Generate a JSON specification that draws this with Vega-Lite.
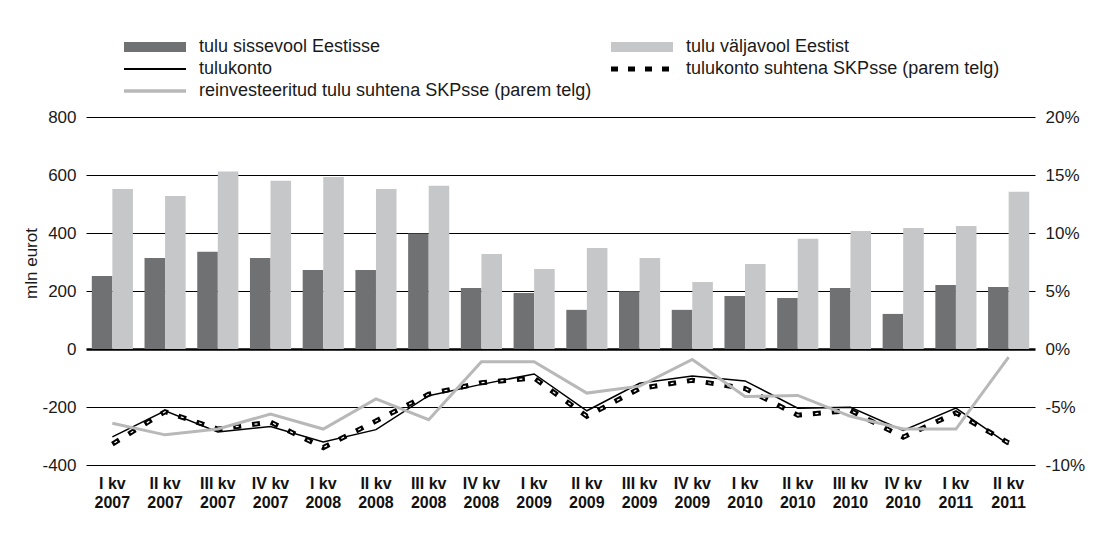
{
  "$schema": "https://vega.github.io/schema/vega-lite/v6.json",
  "width": 949,
  "height": 348,
  "autosize": {"type": "none"},
  "padding": {"left": 86, "top": 117, "right": 61, "bottom": 68},
  "background": "white",
  "config": {
    "view": {"stroke": null},
    "font": "Liberation Sans",
    "axis": {"labelColor": "#1a1a1a", "titleColor": "#1a1a1a", "labelFont": "Liberation Sans", "titleFont": "Liberation Sans"}
  },
  "datasets": {
    "rows": [
      {"quarter": "I kv 2007", "series": "tulu sissevool Eestisse", "value": 252},
      {"quarter": "II kv 2007", "series": "tulu sissevool Eestisse", "value": 314},
      {"quarter": "III kv 2007", "series": "tulu sissevool Eestisse", "value": 335},
      {"quarter": "IV kv 2007", "series": "tulu sissevool Eestisse", "value": 314},
      {"quarter": "I kv 2008", "series": "tulu sissevool Eestisse", "value": 272},
      {"quarter": "II kv 2008", "series": "tulu sissevool Eestisse", "value": 272},
      {"quarter": "III kv 2008", "series": "tulu sissevool Eestisse", "value": 398},
      {"quarter": "IV kv 2008", "series": "tulu sissevool Eestisse", "value": 210},
      {"quarter": "I kv 2009", "series": "tulu sissevool Eestisse", "value": 193},
      {"quarter": "II kv 2009", "series": "tulu sissevool Eestisse", "value": 135},
      {"quarter": "III kv 2009", "series": "tulu sissevool Eestisse", "value": 199},
      {"quarter": "IV kv 2009", "series": "tulu sissevool Eestisse", "value": 135},
      {"quarter": "I kv 2010", "series": "tulu sissevool Eestisse", "value": 183},
      {"quarter": "II kv 2010", "series": "tulu sissevool Eestisse", "value": 176},
      {"quarter": "III kv 2010", "series": "tulu sissevool Eestisse", "value": 210},
      {"quarter": "IV kv 2010", "series": "tulu sissevool Eestisse", "value": 121},
      {"quarter": "I kv 2011", "series": "tulu sissevool Eestisse", "value": 221},
      {"quarter": "II kv 2011", "series": "tulu sissevool Eestisse", "value": 214},
      {"quarter": "I kv 2007", "series": "tulu väljavool Eestist", "value": 552},
      {"quarter": "II kv 2007", "series": "tulu väljavool Eestist", "value": 528},
      {"quarter": "III kv 2007", "series": "tulu väljavool Eestist", "value": 612},
      {"quarter": "IV kv 2007", "series": "tulu väljavool Eestist", "value": 580},
      {"quarter": "I kv 2008", "series": "tulu väljavool Eestist", "value": 593},
      {"quarter": "II kv 2008", "series": "tulu väljavool Eestist", "value": 552},
      {"quarter": "III kv 2008", "series": "tulu väljavool Eestist", "value": 563},
      {"quarter": "IV kv 2008", "series": "tulu väljavool Eestist", "value": 328},
      {"quarter": "I kv 2009", "series": "tulu väljavool Eestist", "value": 276},
      {"quarter": "II kv 2009", "series": "tulu väljavool Eestist", "value": 348},
      {"quarter": "III kv 2009", "series": "tulu väljavool Eestist", "value": 314},
      {"quarter": "IV kv 2009", "series": "tulu väljavool Eestist", "value": 231},
      {"quarter": "I kv 2010", "series": "tulu väljavool Eestist", "value": 293},
      {"quarter": "II kv 2010", "series": "tulu väljavool Eestist", "value": 380},
      {"quarter": "III kv 2010", "series": "tulu väljavool Eestist", "value": 407},
      {"quarter": "IV kv 2010", "series": "tulu väljavool Eestist", "value": 417},
      {"quarter": "I kv 2011", "series": "tulu väljavool Eestist", "value": 424},
      {"quarter": "II kv 2011", "series": "tulu väljavool Eestist", "value": 542},
      {"quarter": "I kv 2007", "series": "tulukonto", "value": -303},
      {"quarter": "II kv 2007", "series": "tulukonto", "value": -213},
      {"quarter": "III kv 2007", "series": "tulukonto", "value": -286},
      {"quarter": "IV kv 2007", "series": "tulukonto", "value": -267},
      {"quarter": "I kv 2008", "series": "tulukonto", "value": -321},
      {"quarter": "II kv 2008", "series": "tulukonto", "value": -278},
      {"quarter": "III kv 2008", "series": "tulukonto", "value": -161},
      {"quarter": "IV kv 2008", "series": "tulukonto", "value": -122},
      {"quarter": "I kv 2009", "series": "tulukonto", "value": -86},
      {"quarter": "II kv 2009", "series": "tulukonto", "value": -213},
      {"quarter": "III kv 2009", "series": "tulukonto", "value": -118},
      {"quarter": "IV kv 2009", "series": "tulukonto", "value": -93},
      {"quarter": "I kv 2010", "series": "tulukonto", "value": -110},
      {"quarter": "II kv 2010", "series": "tulukonto", "value": -204},
      {"quarter": "III kv 2010", "series": "tulukonto", "value": -201},
      {"quarter": "IV kv 2010", "series": "tulukonto", "value": -281},
      {"quarter": "I kv 2011", "series": "tulukonto", "value": -204},
      {"quarter": "II kv 2011", "series": "tulukonto", "value": -329},
      {"quarter": "I kv 2007", "series": "tulukonto suhtena SKPsse (parem telg)", "value": -8.2},
      {"quarter": "II kv 2007", "series": "tulukonto suhtena SKPsse (parem telg)", "value": -5.4},
      {"quarter": "III kv 2007", "series": "tulukonto suhtena SKPsse (parem telg)", "value": -6.9},
      {"quarter": "IV kv 2007", "series": "tulukonto suhtena SKPsse (parem telg)", "value": -6.3},
      {"quarter": "I kv 2008", "series": "tulukonto suhtena SKPsse (parem telg)", "value": -8.5},
      {"quarter": "II kv 2008", "series": "tulukonto suhtena SKPsse (parem telg)", "value": -6.2},
      {"quarter": "III kv 2008", "series": "tulukonto suhtena SKPsse (parem telg)", "value": -3.9},
      {"quarter": "IV kv 2008", "series": "tulukonto suhtena SKPsse (parem telg)", "value": -2.9},
      {"quarter": "I kv 2009", "series": "tulukonto suhtena SKPsse (parem telg)", "value": -2.5},
      {"quarter": "II kv 2009", "series": "tulukonto suhtena SKPsse (parem telg)", "value": -5.8},
      {"quarter": "III kv 2009", "series": "tulukonto suhtena SKPsse (parem telg)", "value": -3.4},
      {"quarter": "IV kv 2009", "series": "tulukonto suhtena SKPsse (parem telg)", "value": -2.7},
      {"quarter": "I kv 2010", "series": "tulukonto suhtena SKPsse (parem telg)", "value": -3.4},
      {"quarter": "II kv 2010", "series": "tulukonto suhtena SKPsse (parem telg)", "value": -5.7},
      {"quarter": "III kv 2010", "series": "tulukonto suhtena SKPsse (parem telg)", "value": -5.3},
      {"quarter": "IV kv 2010", "series": "tulukonto suhtena SKPsse (parem telg)", "value": -7.6},
      {"quarter": "I kv 2011", "series": "tulukonto suhtena SKPsse (parem telg)", "value": -5.5},
      {"quarter": "II kv 2011", "series": "tulukonto suhtena SKPsse (parem telg)", "value": -8.1},
      {"quarter": "I kv 2007", "series": "reinvesteeritud tulu suhtena SKPsse (parem telg)", "value": -6.4},
      {"quarter": "II kv 2007", "series": "reinvesteeritud tulu suhtena SKPsse (parem telg)", "value": -7.4},
      {"quarter": "III kv 2007", "series": "reinvesteeritud tulu suhtena SKPsse (parem telg)", "value": -6.9},
      {"quarter": "IV kv 2007", "series": "reinvesteeritud tulu suhtena SKPsse (parem telg)", "value": -5.6},
      {"quarter": "I kv 2008", "series": "reinvesteeritud tulu suhtena SKPsse (parem telg)", "value": -6.9},
      {"quarter": "II kv 2008", "series": "reinvesteeritud tulu suhtena SKPsse (parem telg)", "value": -4.3},
      {"quarter": "III kv 2008", "series": "reinvesteeritud tulu suhtena SKPsse (parem telg)", "value": -6.1},
      {"quarter": "IV kv 2008", "series": "reinvesteeritud tulu suhtena SKPsse (parem telg)", "value": -1.1},
      {"quarter": "I kv 2009", "series": "reinvesteeritud tulu suhtena SKPsse (parem telg)", "value": -1.1},
      {"quarter": "II kv 2009", "series": "reinvesteeritud tulu suhtena SKPsse (parem telg)", "value": -3.8},
      {"quarter": "III kv 2009", "series": "reinvesteeritud tulu suhtena SKPsse (parem telg)", "value": -3.2},
      {"quarter": "IV kv 2009", "series": "reinvesteeritud tulu suhtena SKPsse (parem telg)", "value": -0.9},
      {"quarter": "I kv 2010", "series": "reinvesteeritud tulu suhtena SKPsse (parem telg)", "value": -4.1},
      {"quarter": "II kv 2010", "series": "reinvesteeritud tulu suhtena SKPsse (parem telg)", "value": -4.0},
      {"quarter": "III kv 2010", "series": "reinvesteeritud tulu suhtena SKPsse (parem telg)", "value": -5.8},
      {"quarter": "IV kv 2010", "series": "reinvesteeritud tulu suhtena SKPsse (parem telg)", "value": -6.9},
      {"quarter": "I kv 2011", "series": "reinvesteeritud tulu suhtena SKPsse (parem telg)", "value": -6.9},
      {"quarter": "II kv 2011", "series": "reinvesteeritud tulu suhtena SKPsse (parem telg)", "value": -0.7}
    ]
  },
  "data": {"name": "rows"},
  "encoding": {
    "x": {
      "field": "quarter",
      "type": "nominal",
      "sort": ["I kv 2007", "II kv 2007", "III kv 2007", "IV kv 2007", "I kv 2008", "II kv 2008", "III kv 2008", "IV kv 2008", "I kv 2009", "II kv 2009", "III kv 2009", "IV kv 2009", "I kv 2010", "II kv 2010", "III kv 2010", "IV kv 2010", "I kv 2011", "II kv 2011"],
      "scale": {"paddingInner": 0.22, "paddingOuter": 0.11},
      "axis": {
        "orient": "bottom",
        "title": null,
        "domain": false,
        "ticks": false,
        "labelAngle": 0,
        "labelOverlap": false,
        "labelFontWeight": "bold",
        "labelFontSize": 16,
        "labelColor": "#111",
        "labelPadding": 10,
        "labelLineHeight": 19,
        "labelExpr": "[slice(datum.label, 0, lastindexof(datum.label, ' ')), slice(datum.label, lastindexof(datum.label, ' ') + 1)]"
      }
    }
  },
  "layer": [
    {
      "transform": [{"filter": "datum.series == 'tulu sissevool Eestisse' || datum.series == 'tulu väljavool Eestist'"}],
      "mark": {"type": "bar"},
      "encoding": {
        "xOffset": {"field": "series", "type": "nominal", "sort": ["tulu sissevool Eestisse", "tulu väljavool Eestist"], "scale": {"paddingInner": 0, "paddingOuter": 0}},
        "y": {
          "field": "value",
          "type": "quantitative",
          "scale": {"domain": [-400, 800], "nice": false, "zero": false},
          "axis": {
            "orient": "left",
            "values": [-400, -200, 0, 200, 400, 600, 800],
            "grid": true,
            "gridColor": "#000",
            "gridOpacity": 1,
            "gridWidth": {"condition": {"test": "datum.value === 0", "value": 2.5}, "value": 1},
            "domain": false,
            "ticks": false,
            "labelFontSize": 17,
            "labelPadding": 10,
            "labelExpr": "datum.value + ''",
            "title": "mln eurot",
            "titleFontSize": 17,
            "titleFontWeight": "normal",
            "titleAngle": -90,
            "titleX": -55,
            "titleY": 146,
            "titleAlign": "center",
            "titleBaseline": "middle"
          }
        },
        "fill": {
          "field": "series",
          "type": "nominal",
          "scale": {
            "domain": ["tulu sissevool Eestisse", "tulu väljavool Eestist", "tulukonto", "tulukonto suhtena SKPsse (parem telg)", "reinvesteeritud tulu suhtena SKPsse (parem telg)"],
            "range": ["#707173", "#c6c7c9", "#000000", "#000000", "#b8b8b8"]
          },
          "legend": {
            "orient": "none",
            "legendX": 38,
            "legendY": -80,
            "columns": 2,
            "direction": "horizontal",
            "title": null,
            "padding": 0,
            "symbolSize": 400,
            "symbolStrokeWidth": 0,
            "symbolType": "M-3.1,-0.5H3.1V0.5H-3.1Z",
            "symbolOffset": 21,
            "labelOffset": 34,
            "labelFontSize": 18,
            "labelFont": "Liberation Sans",
            "labelColor": "#1a1a1a",
            "labelLimit": 600,
            "columnPadding": 19,
            "rowPadding": 3,
            "encode": {
              "symbols": {
                "update": {
                  "shape": {"signal": "datum.index < 2 ? 'M-3.1,-0.5H3.1V0.5H-3.1Z' : datum.index == 2 ? 'M-3.1,-0.1H3.1V0.1H-3.1Z' : datum.index == 3 ? 'M-3.1,-0.25H-2.4V0.25H-3.1Z M-1.4,-0.25H-0.7V0.25H-1.4Z M0.3,-0.25H1V0.25H0.3Z M2,-0.25H2.7V0.25H2Z' : 'M-3.1,-0.175H3.1V0.175H-3.1Z'"}
                }
              }
            }
          }
        }
      }
    },
    {
      "transform": [{"filter": "datum.series == 'tulukonto'"}],
      "mark": {"type": "line", "color": "#000000", "strokeWidth": 1.5},
      "encoding": {
        "y": {"field": "value", "type": "quantitative", "scale": {"domain": [-400, 800], "nice": false, "zero": false}, "axis": null}
      }
    },
    {
      "transform": [{"filter": "datum.series == 'tulukonto suhtena SKPsse (parem telg)'"}],
      "mark": {"type": "line", "color": "#000000", "strokeWidth": 5, "strokeDash": [8, 11]},
      "encoding": {
        "y": {
          "field": "value",
          "type": "quantitative",
          "scale": {"domain": [-10, 20], "nice": false, "zero": false},
          "axis": {
            "orient": "right",
            "values": [-10, -5, 0, 5, 10, 15, 20],
            "grid": false,
            "domain": false,
            "ticks": false,
            "labelFontSize": 17,
            "labelPadding": 10,
            "labelExpr": "datum.value + '%'",
            "title": null
          }
        }
      }
    },
    {
      "transform": [{"filter": "datum.series == 'tulukonto suhtena SKPsse (parem telg)'"}],
      "mark": {"type": "line", "color": "#ffffff", "strokeWidth": 1.2, "strokeDash": [3, 16], "strokeDashOffset": -2.5},
      "encoding": {
        "y": {"field": "value", "type": "quantitative", "scale": {"domain": [-10, 20], "nice": false, "zero": false}, "axis": null}
      }
    },
    {
      "transform": [{"filter": "datum.series == 'reinvesteeritud tulu suhtena SKPsse (parem telg)'"}],
      "mark": {"type": "line", "color": "#b8b8b8", "strokeWidth": 3},
      "encoding": {
        "y": {"field": "value", "type": "quantitative", "scale": {"domain": [-10, 20], "nice": false, "zero": false}, "axis": null}
      }
    }
  ],
  "resolve": {"scale": {"y": "independent"}}
}
